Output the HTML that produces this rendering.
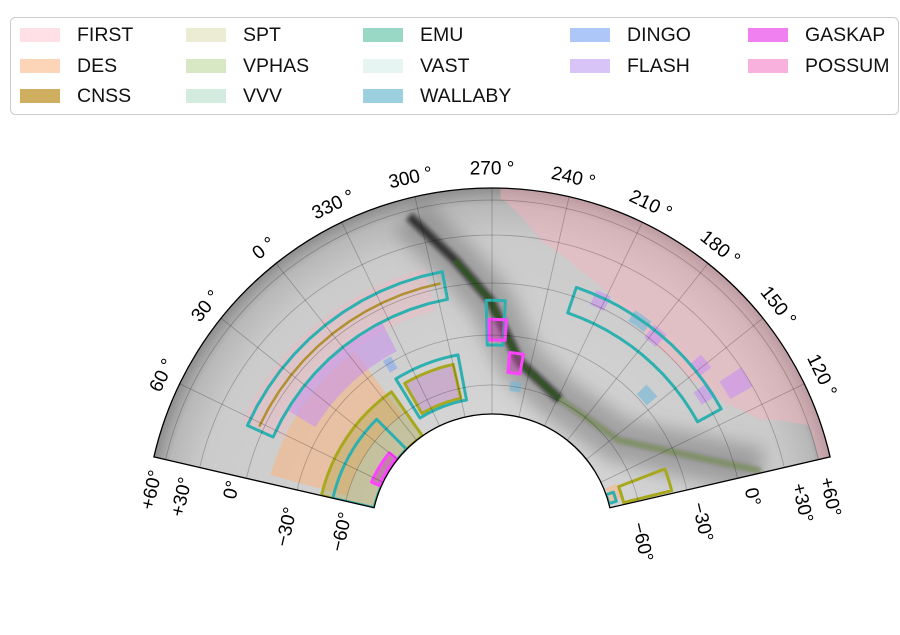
<!DOCTYPE html>
<html><head><meta charset="utf-8">
<style>
html,body{margin:0;padding:0;background:#fff;}
body{width:900px;height:630px;overflow:hidden;font-family:"Liberation Sans","DejaVu Sans",sans-serif;}
svg text{font-family:"Liberation Sans","DejaVu Sans",sans-serif;}
</style></head>
<body>
<svg id="chart" width="900" height="630" viewBox="0 0 900 630" xmlns="http://www.w3.org/2000/svg">
<defs>
<radialGradient id="skyGrad" cx="492" cy="535" r="347" gradientUnits="userSpaceOnUse">
<stop offset="0.35" stop-color="#d4d4d4"/>
<stop offset="0.85" stop-color="#cbcbcb"/>
<stop offset="0.95" stop-color="#b8b8b8"/>
<stop offset="1" stop-color="#8e8e8e"/>
</radialGradient>
<filter id="blur8" x="-20%" y="-20%" width="140%" height="140%"><feGaussianBlur stdDeviation="9"/></filter>
<filter id="blur3" x="-20%" y="-20%" width="140%" height="140%"><feGaussianBlur stdDeviation="2"/></filter>
<clipPath id="fanClip"><path id="fanClipPath"/></clipPath>
</defs>
<g id="legend">
<rect x="10.5" y="17.5" width="888" height="97" rx="5" fill="#fff" stroke="#cccccc" stroke-width="1"/>
</g>
<path id="fanBg" fill="url(#skyGrad)"/>
<g id="mapLayer" clip-path="url(#fanClip)"></g>
<g id="gridLayer" clip-path="url(#fanClip)"></g>
<path id="fanBorder" fill="none" stroke="#000" stroke-width="1.3"/>
<g id="labelLayer"></g>
</svg>
<script>
// ---------- data ----------
const legendNames = ["FIRST","DES","CNSS","SPT","VPHAS","VVV","EMU","VAST","WALLABY","DINGO","FLASH","GASKAP","POSSUM"];
const legendColors = ["#ffe0e6","#fcd5b8","#cfae60","#ecebd4","#d9e8c4","#d4ebe0","#98d8c4","#e6f4f2","#9ccfe0","#adc8f8","#d9c4f8","#f080f0","#f8b0dc"];
const legendCols = [0,0,0,1,1,1,2,2,2,3,3,4,4];
const legendRows = [0,1,2,0,1,2,0,1,2,0,1,0,1];
const lonTicks = [60,30,0,330,300,270,240,210,180,150,120];
const decTicks = [-60,-30,0,30,60];
const decTickLabels = ["\u221260\u00b0","\u221230\u00b0","0\u00b0","+30\u00b0","+60\u00b0"];
const gridLons = [120,150,180,210,240,270,300,330,360,390,420];
const gridDecs = [-60,-30,0,30,60];
const firstMain = [[266.7,63],[248,29],[227.5,17],[204.5,8],[178,-1],[150,0],[128,10],[114,25],[104,61],[90,62],[90,90],[266.7,90]];
const firstLeft = [[303,-12],[423,-12],[423,14],[303,14]];
const desRegion = [[356,-60],[445,-60],[445,-13],[356,-13]];
const desSmall = [[96,-88],[112,-88],[112,-76],[96,-76]];
const sptRegion = [[352,-90],[450,-90],[450,-45],[352,-45]];
const sptBox = [[300,-70],[340,-70],[340,-45],[300,-45]];
const flashLeft = [[334,-26],[407,-26],[407,-8],[334,-8]];
const flashLons = [212,178,151,134,138];
const flashDecs = [4,3.5,10,22,2];
const wallabyLons = [189,158,249];
const wallabyDecs = [5,-25,-61];
const dingoLons = [342];
const dingoDecs = [-31];
const tealBoxes = [[295,424,-7,10],[127,226,-10,6],[295,344,-73,-40],[262.4,273.3,-36,-10],[375,450,-90,-52],[95,105,-90,-82]];
const oliveBoxes = [[352,450,-90,-45],[92,108.5,-75,-39],[300,340,-70,-45]];
const cnssLineLons = [297,422];
const cnssLineDec = 3;
const gaskapBoxes = [[261,272,-33,-21],[247,257,-52,-40],[390,425,-88,-79]];
const planeLons = [304,288,271,248.7,208,145.6,91];
const planeDecs = [55,16,-10,-45,-59,-55,15];
// ---------- axes ----------
const K = 77/180, CX = 492, CY = 535, R_IN = 121, R_OUT = 347;
const decKnots = [-90,-60,-30,0,30,60,90];
const rKnots = [121,150,200,252,300,335,347];
function rOf(dec){
  if(dec<=decKnots[0]) return rKnots[0];
  for(let i=1;i<decKnots.length;i++){
    if(dec<=decKnots[i]){const t=(dec-decKnots[i-1])/(decKnots[i]-decKnots[i-1]);return rKnots[i-1]+t*(rKnots[i]-rKnots[i-1]);}
  }
  return rKnots[rKnots.length-1];
}
function aOf(lon){let L=lon; if(L<90) L+=360; return (270-L)*K*Math.PI/180;}
function proj(lon,dec){const a=aOf(lon), r=rOf(dec); return [CX+r*Math.sin(a), CY-r*Math.cos(a)];}
function polyPath(pts){
  let d="";
  for(let i=0;i<pts.length;i++){
    const p=pts[i], q=pts[(i+1)%pts.length];
    for(let s=0;s<12;s++){const t=s/12;const xy=proj(p[0]+(q[0]-p[0])*t,p[1]+(q[1]-p[1])*t);d+=(d?"L":"M")+xy[0].toFixed(1)+","+xy[1].toFixed(1);}
  }
  return d+"Z";
}
function boxPts(b){return [[b[0],b[2]],[b[1],b[2]],[b[1],b[3]],[b[0],b[3]]];}
const NS="http://www.w3.org/2000/svg";
function mk(tag,parent){const e=document.createElementNS(NS,tag);parent.appendChild(e);return e;}
function arcPt(a,r){return [CX+r*Math.sin(a),CY-r*Math.cos(a)];}
const A=77*Math.PI/180;
const o1=arcPt(-A,R_OUT),o2=arcPt(A,R_OUT),i1=arcPt(A,R_IN),i2=arcPt(-A,R_IN);
const fanD=`M${o1[0]},${o1[1]} A${R_OUT},${R_OUT} 0 0 1 ${o2[0]},${o2[1]} L${i1[0]},${i1[1]} A${R_IN},${R_IN} 0 0 0 ${i2[0]},${i2[1]} Z`;
document.getElementById('fanBg').setAttribute('d',fanD);
document.getElementById('fanClipPath').setAttribute('d',fanD);
document.getElementById('fanBorder').setAttribute('d',fanD);
const map=document.getElementById('mapLayer');
function planeD(n0,n1){let d="";for(let i=n0;i<=n1;i++){const p=proj(planeLons[i],planeDecs[i]);d+=(i>n0?"L":"M")+p[0].toFixed(1)+","+p[1].toFixed(1);}return d;}
const NP=planeLons.length-1;
let e=mk('path',map);


e.setAttribute('d',planeD(0,NP));e.setAttribute('fill','none');e.setAttribute('stroke','#666');e.setAttribute('stroke-opacity','0.45');e.setAttribute('stroke-width','45');e.setAttribute('stroke-linejoin','round');e.setAttribute('filter','url(#blur8)');
e=mk('path',map);


e.setAttribute('d',planeD(0,4));e.setAttribute('fill','none');e.setAttribute('stroke','#111');e.setAttribute('stroke-opacity','0.75');e.setAttribute('stroke-width','9');e.setAttribute('stroke-linejoin','round');e.setAttribute('filter','url(#blur3)');
e=mk('path',map);


e.setAttribute('d',planeD(4,NP));e.setAttribute('fill','none');e.setAttribute('stroke','#333');e.setAttribute('stroke-opacity','0.45');e.setAttribute('stroke-width','5');e.setAttribute('stroke-linejoin','round');e.setAttribute('filter','url(#blur3)');
function fillPoly(pts,color,op,name){
  const p=mk('path',map);
  
  
  p.setAttribute('d',polyPath(pts));p.setAttribute('fill',color);p.setAttribute('fill-opacity',op);
  return p;
}
fillPoly(firstMain,'#ffb0bd',0.42,'first-region');
fillPoly(firstLeft,'#ffb0bd',0.3,'first-region-left');
fillPoly(desRegion,'#ffb27a',0.5,'des-region');
fillPoly(desSmall,'#ffb27a',0.5,'des-region-small');
fillPoly(sptRegion,'#a8a040',0.35,'spt-region');
fillPoly(sptBox,'#c080c0',0.45,'vphas-region');
fillPoly(flashLeft,'#c890f0',0.55,'flash-region-left');
for(let i=0;i<flashLons.length;i++){
  const w=i===3?5:4,h=i===3?8:5;
  fillPoly([[flashLons[i]-w,flashDecs[i]-h],[flashLons[i]+w,flashDecs[i]-h],[flashLons[i]+w,flashDecs[i]+h],[flashLons[i]-w,flashDecs[i]+h]],'#c890f0',0.6,'flash-patch');
}
for(let i=0;i<wallabyLons.length;i++){
  fillPoly([[wallabyLons[i]-5,wallabyDecs[i]-4],[wallabyLons[i]+5,wallabyDecs[i]-4],[wallabyLons[i]+5,wallabyDecs[i]+4],[wallabyLons[i]-5,wallabyDecs[i]+4]],'#70b8d8',0.6,'wallaby-patch');
}
for(let i=0;i<dingoLons.length;i++){
  fillPoly([[dingoLons[i]-3,dingoDecs[i]-4],[dingoLons[i]+3,dingoDecs[i]-4],[dingoLons[i]+3,dingoDecs[i]+4],[dingoLons[i]-3,dingoDecs[i]+4]],'#80a8f0',0.6,'dingo-patch');
}
e=mk('path',map);


e.setAttribute('d',planeD(1,4));e.setAttribute('fill','none');e.setAttribute('stroke','#2f6a1a');e.setAttribute('stroke-opacity','0.5');e.setAttribute('stroke-width','6');e.setAttribute('stroke-linejoin','round');
e=mk('path',map);


e.setAttribute('d',planeD(4,NP));e.setAttribute('fill','none');e.setAttribute('stroke','#8aa860');e.setAttribute('stroke-opacity','0.45');e.setAttribute('stroke-width','7');e.setAttribute('stroke-linejoin','round');
function outline(b,color,w,name){
  const p=mk('path',map);
  
  
  p.setAttribute('d',polyPath(boxPts(b)));p.setAttribute('fill','none');p.setAttribute('stroke',color);p.setAttribute('stroke-width',w);p.setAttribute('stroke-linejoin','round');
}
oliveBoxes.forEach(b=>outline(b,'#a8a81e',3,'olive-outline'));
{
  const p=mk('path',map);
  
  
  p.setAttribute('d',polyPath([[cnssLineLons[0],cnssLineDec],[cnssLineLons[1],cnssLineDec]]));p.setAttribute('fill','none');p.setAttribute('stroke','#b09030');p.setAttribute('stroke-width','2.5');
}
tealBoxes.forEach(b=>outline(b,'#2fb0b0',3,'teal-outline'));
gaskapBoxes.forEach(b=>{
  const p=mk('path',map);
  
  
  p.setAttribute('d',polyPath(boxPts(b)));p.setAttribute('fill','#c040b0');p.setAttribute('fill-opacity','0.5');p.setAttribute('stroke','#ff44ff');p.setAttribute('stroke-width','3');p.setAttribute('stroke-linejoin','round');
});
const grid=document.getElementById('gridLayer');
gridLons.forEach(l=>{
  const a=mk('path',grid);
  
  
  const p1=proj(l,-90),p2=proj(l,90);
  a.setAttribute('d',`M${p1[0]},${p1[1]}L${p2[0]},${p2[1]}`);a.setAttribute('stroke','#000');a.setAttribute('stroke-opacity','0.25');a.setAttribute('stroke-width','0.8');
});
gridDecs.forEach(dv=>{
  const a=mk('path',grid);
  
  
  let d="";for(let l=90;l<=450;l+=3){const p=proj(l,dv);d+=(d?"L":"M")+p[0].toFixed(1)+","+p[1].toFixed(1);}
  a.setAttribute('d',d);a.setAttribute('fill','none');a.setAttribute('stroke','#000');a.setAttribute('stroke-opacity','0.25');a.setAttribute('stroke-width','0.8');
});
const lab=document.getElementById('labelLayer');
lonTicks.forEach(l=>{
  const a=aOf(l), p=arcPt(a,366), deg=a*180/Math.PI;
  const t=mk('text',lab);
  
  
  t.setAttribute('transform',`translate(${p[0].toFixed(1)},${p[1].toFixed(1)}) rotate(${deg.toFixed(1)})`);
  t.setAttribute('text-anchor','middle');t.setAttribute('dominant-baseline','central');t.setAttribute('font-size','19');
  t.textContent=l+" \u00b0";
});
const leftPos=[[342,532],[287,527],[232,490],[182,497],[152,490]];
const rightPos=[[642,542],[702,522],[752,497],[802,503],[830,497]];
decTicks.forEach((dv,i)=>{
  [[leftPos[i],-77],[rightPos[i],77]].forEach(([p,rot])=>{
    const t=mk('text',lab);
    
    
    t.setAttribute('transform',`translate(${p[0]},${p[1]}) rotate(${rot})`);
    t.setAttribute('text-anchor','middle');t.setAttribute('dominant-baseline','central');t.setAttribute('font-size','19');
    t.textContent=decTickLabels[i];
  });
});
const leg=document.getElementById('legend');
const colX=[20,186,363,570,748], rowY=[35,66,96];
legendNames.forEach((n,i)=>{
  const c=legendCols[i], r=legendRows[i];
  const g=mk('g',leg);
  
  
  const s=mk('rect',g);
  
  
  s.setAttribute('x',colX[c]);s.setAttribute('y',rowY[r]-7);s.setAttribute('width',40);s.setAttribute('height',14);s.setAttribute('fill',legendColors[i]);
  const t=mk('text',g);
  
  
  t.setAttribute('x',colX[c]+57);t.setAttribute('y',rowY[r]);t.setAttribute('dominant-baseline','central');t.setAttribute('font-size','19.5');t.setAttribute('fill','#111');
  t.textContent=n;
});
</script>
</body></html>
